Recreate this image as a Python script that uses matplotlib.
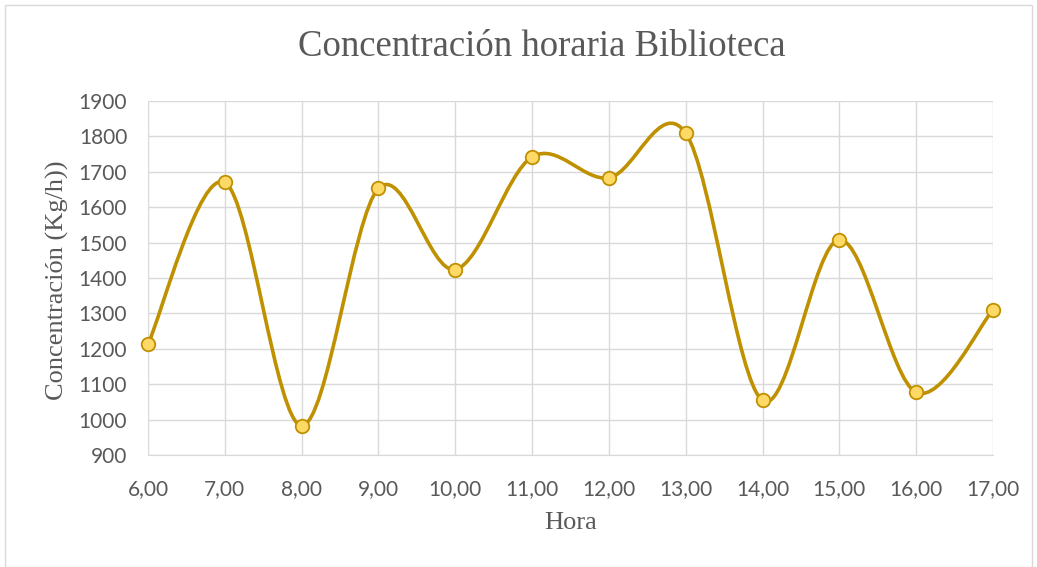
"""Concentración horaria Biblioteca - línea suavizada estilo Excel."""
import numpy as np
import matplotlib
matplotlib.use('Agg')
import matplotlib.pyplot as plt
from matplotlib.patches import Rectangle
from matplotlib.path import Path
from matplotlib.patches import PathPatch

horas = [6, 7, 8, 9, 10, 11, 12, 13, 14, 15, 16, 17]
concentracion = [1213, 1670, 983, 1653, 1424, 1742, 1683, 1809, 1054, 1508, 1077, 1310]
y_ticks = [900, 1000, 1100, 1200, 1300, 1400, 1500, 1600, 1700, 1800, 1900]

LINE = '#BF9000'
FACE = '#FFD966'
GRID = '#D9D9D9'
TEXT = '#595959'


def smooth_path(x, y):
    # Bezier segments with Catmull-Rom control points (como el suavizado de Excel)
    pts = np.column_stack([x, y]).astype(float)
    n = len(pts)
    verts = [pts[0]]
    codes = [Path.MOVETO]
    for i in range(n - 1):
        p0 = pts[i - 1] if i > 0 else pts[i]
        p1 = pts[i]
        p2 = pts[i + 1]
        p3 = pts[i + 2] if i + 2 < n else pts[i + 1]
        c1 = p1 + (p2 - p0) / 6.0
        c2 = p2 - (p3 - p1) / 6.0
        verts += [c1, c2, p2]
        codes += [Path.CURVE4] * 3
    return Path(verts, codes)


def main():
    W, H = 1037, 567
    fig = plt.figure(figsize=(W / 100, H / 100), dpi=100)
    fig.patches.append(Rectangle((5 / W, 0), 1 - 10 / W, 1 - 5 / H, transform=fig.transFigure,
                                 fill=False, edgecolor='#D9D9D9', linewidth=1))
    ax = fig.add_axes([148 / W, 1 - 455 / H, (993 - 148) / W, (455 - 101) / H])

    ax.add_patch(PathPatch(smooth_path(horas, concentracion), facecolor='none',
                           edgecolor=LINE, linewidth=2.6, zorder=3, capstyle='round'))
    ax.scatter(horas, concentracion, s=95, color=FACE, edgecolors=LINE, linewidths=1.3, zorder=4,
               clip_on=False)

    ax.set_xlim(6, 17)
    ax.set_ylim(900, 1900)
    ax.set_xticks(horas)
    ax.set_xticklabels([f"{h},00" for h in horas])
    ax.set_yticks(y_ticks)
    ax.grid(True, color=GRID, linewidth=1)
    ax.set_axisbelow(True)
    for side in ['top', 'right', 'left']:
        ax.spines[side].set_visible(False)
    ax.spines['bottom'].set_color(GRID)
    ax.tick_params(length=0, labelsize=15, labelcolor=TEXT)
    ax.tick_params(axis='x', pad=17)
    ax.tick_params(axis='y', pad=15)
    for lab in ax.get_xticklabels() + ax.get_yticklabels():
        lab.set_family('Lato')

    fig.text(571 / W, 1 - 523 / H, "Hora", ha='center', va='center',
             family='Liberation Serif', fontsize=19, color=TEXT)
    fig.text(57 / W, 1 - 280 / H, "Concentración (Kg/h))", ha='center', va='center', rotation=90,
             family='Liberation Serif', fontsize=19, color=TEXT)
    fig.text(542 / W, 1 - 47 / H, "Concentración horaria Biblioteca", ha='center', va='center',
             family='Liberation Serif', fontsize=26.5, color=TEXT)

    fig.savefig("out.png", dpi=100)


if __name__ == "__main__":
    main()
